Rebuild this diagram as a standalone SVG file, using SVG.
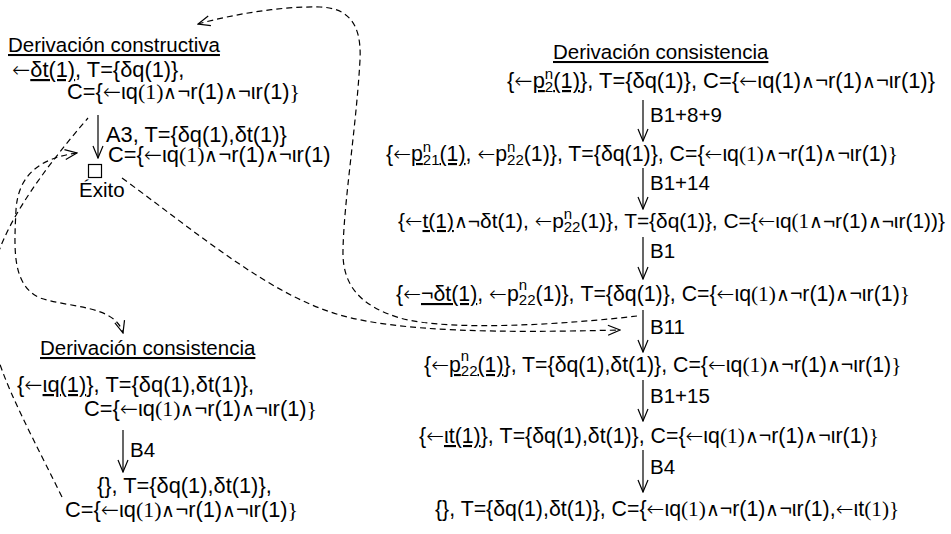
<svg xmlns="http://www.w3.org/2000/svg" width="951" height="534" viewBox="0 0 951 534">
<style>
text{font-family:"Liberation Sans","DejaVu Sans",sans-serif;font-size:20.5px;fill:#000}
.f{font-size:21.8px}
.g{font-size:21.3px}
.s{font-family:"Liberation Serif","DejaVu Serif",serif}
.a{font-family:"DejaVu Sans",sans-serif;font-weight:200}
.w{font-family:"DejaVu Sans",sans-serif;font-weight:200;font-size:19px}
.u{text-decoration:underline}
.sb{font-size:15px}
.arr{stroke:#000;stroke-width:1.2;fill:none;marker-end:url(#ah)}
.dash{stroke:#000;stroke-width:1.2;fill:none;stroke-dasharray:6 4}
</style>
<defs>
<marker id="ah" viewBox="-13 -6 14 12" refX="0" refY="0" markerWidth="14" markerHeight="12" markerUnits="userSpaceOnUse" orient="auto-start-reverse">
<path d="M-12,-5 L0,0 L-12,5" fill="none" stroke="#000" stroke-width="1.2"/>
</marker>
</defs>
<rect width="951" height="534" fill="#fff"/>

<g id="constructiva">
<text x="8" y="52" class="u">Derivación constructiva</text>
<text x="12" y="77" class="f"><tspan class="a">←</tspan><tspan class="u">δt(1)</tspan>, T={δq(1)},</text>
<text x="67" y="99" class="f">C={<tspan class="a">←</tspan>ιq<tspan class="s">(1)</tspan><tspan class="w">∧</tspan>¬r(1)<tspan class="w">∧</tspan>¬ιr(1)<tspan class="s">}</tspan></text>
</g>

<g id="exito">
<text x="106" y="142" class="f">A3, T={δq(1),δt(1)}</text>
<text x="108" y="162" class="f">C={<tspan class="a">←</tspan>ιq<tspan class="s">(1)</tspan><tspan class="w">∧</tspan>¬r(1)<tspan class="w">∧</tspan>¬ιr(1)</text>
<rect x="88.5" y="164.5" width="13" height="13" fill="none" stroke="#000" stroke-width="1.2"/>
<text x="79" y="197">Éxito</text>
</g>

<g id="consistencia-right">
<text x="553" y="59" class="u">Derivación consistencia</text>
</g>
<g id="r1"><text x="507" y="88" style="font-size:21.9px">{<tspan class="a">←</tspan><tspan class="u">p</tspan><tspan class="sb" dy="4">2</tspan><tspan class="sb" dx="-8.34" dy="-13">n</tspan><tspan class="u" dy="9">(1)</tspan>}, T={δq(1)}, C={<tspan class="a">←</tspan>ιq(1)<tspan class="w">∧</tspan>¬r(1)<tspan class="w">∧</tspan>¬ιr(1)}</text></g>
<g id="r2"><text x="386" y="161" class="g">{<tspan class="a">←</tspan><tspan class="u">p</tspan><tspan class="sb" dy="4">21</tspan><tspan class="sb" dx="-16.7" dy="-13">n</tspan><tspan class="u" dx="8.34" dy="9">(1)</tspan>, <tspan class="a">←</tspan>p<tspan class="sb" dy="4">22</tspan><tspan class="sb" dx="-16.7" dy="-13">n</tspan><tspan dx="8.34" dy="9">(1)}, T={δq(1)}, C={<tspan class="a">←</tspan>ιq<tspan class="s">(1)</tspan><tspan class="w">∧</tspan>¬r(1)<tspan class="w">∧</tspan>¬ιr(1)<tspan class="s">}</tspan></tspan></text></g>
<g id="r3"><text x="398" y="228" style="font-size:20.9px">{<tspan class="a">←</tspan><tspan class="u">t(1)</tspan><tspan class="w">∧</tspan>¬δt(1), <tspan class="a">←</tspan>p<tspan class="sb" dy="4">22</tspan><tspan class="sb" dx="-16.7" dy="-13">n</tspan><tspan dx="8.34" dy="9">(1)}, T={δq(1)}, C={<tspan class="a">←</tspan>ιq<tspan class="s">(1</tspan><tspan class="w">∧</tspan>¬r(1)<tspan class="w">∧</tspan>¬ιr(1))}</tspan></text></g>
<g id="r4"><text x="396" y="301" class="g">{<tspan class="a">←</tspan><tspan class="u">¬δt(1)</tspan>, <tspan class="a">←</tspan>p<tspan class="sb" dy="4">22</tspan><tspan class="sb" dx="-16.7" dy="-15">n</tspan><tspan dx="8.34" dy="11">(1)}, T={δq(1)}, C={<tspan class="a">←</tspan>ιq<tspan class="s">(1)</tspan><tspan class="w">∧</tspan>¬r(1)<tspan class="w">∧</tspan>¬ιr(1)<tspan class="s">}</tspan></tspan></text></g>
<g id="r5"><text x="424" y="372" class="g">{<tspan class="a">←</tspan><tspan class="u">p</tspan><tspan class="sb" dy="4">22</tspan><tspan class="sb" dx="-16.7" dy="-15">n</tspan><tspan class="u" dx="8.34" dy="11">(1)</tspan>}, T={δq(1),δt(1)}, C={<tspan class="a">←</tspan>ιq<tspan class="s">(1)</tspan><tspan class="w">∧</tspan>¬r(1)<tspan class="w">∧</tspan>¬ιr(1)<tspan class="s">}</tspan></text></g>
<g id="r6"><text x="419" y="443" class="g">{<tspan class="a">←</tspan><tspan class="u">ιt(1)</tspan>}, T={δq(1),δt(1)}, C={<tspan class="a">←</tspan>ιq<tspan class="s">(1)</tspan><tspan class="w">∧</tspan>¬r(1)<tspan class="w">∧</tspan>¬ιr(1)<tspan class="s">}</tspan></text></g>
<g id="r7"><text x="435" y="516" class="g">{}, T={δq(1),δt(1)}, C={<tspan class="a">←</tspan>ιq<tspan class="s">(1)</tspan><tspan class="w">∧</tspan>¬r(1)<tspan class="w">∧</tspan>¬ιr(1),<tspan class="a">←</tspan>ιt<tspan class="s">(1)}</tspan></text></g>

<g id="consistencia-left">
<text x="40" y="355" class="u">Derivación consistencia</text>
<text x="17" y="392" class="f">{<tspan class="a">←</tspan><tspan class="u">ιq(1)</tspan>}, T={δq(1),δt(1)},</text>
<text x="84" y="416" class="f">C={<tspan class="a">←</tspan>ιq<tspan class="s">(1)</tspan><tspan class="w">∧</tspan>¬r(1)<tspan class="w">∧</tspan>¬ιr(1)<tspan class="s">}</tspan></text>
</g>
<g id="empty-left">
<text x="97" y="493" class="f">{}, T={δq(1),δt(1)},</text>
<text x="65" y="517" class="f">C={<tspan class="a">←</tspan>ιq<tspan class="s">(1)</tspan><tspan class="w">∧</tspan>¬r(1)<tspan class="w">∧</tspan>¬ιr(1)<tspan class="s">}</tspan></text>
</g>

<g id="connectors">
<line class="arr" x1="98" y1="115" x2="98" y2="158"/>
<line class="arr" x1="643" y1="100" x2="643" y2="141"/>
<text x="650" y="122">B1+8+9</text>
<line class="arr" x1="643" y1="168" x2="643" y2="209"/>
<text x="650" y="190">B1+14</text>
<line class="arr" x1="643" y1="237" x2="643" y2="279"/>
<text x="650" y="258">B1</text>
<line class="arr" x1="643" y1="310" x2="643" y2="352"/>
<text x="650" y="334">B11</text>
<line class="arr" x1="643" y1="380" x2="643" y2="421"/>
<text x="650" y="403">B1+15</text>
<line class="arr" x1="643" y1="450" x2="643" y2="492"/>
<text x="650" y="474">B4</text>
<line class="arr" x1="123" y1="430" x2="123" y2="472"/>
<text x="130" y="457">B4</text>

<path class="dash" marker-end="url(#ah)" d="M637,316 C570,324 450,332 400,318 C360,306 342,285 343,250 C344,200 356,130 360,60 C362,20 345,8 320,7 C280,6 230,15 198,24"/>
<path class="dash" marker-end="url(#ah)" d="M122,178 C200,235 270,295 340,315 C400,332 500,333 620,330"/>
<path class="dash" d="M62,497 C-20,330 -60,290 88,118"/>
<path class="dash" marker-start="url(#ah)" marker-end="url(#ah)" d="M77,153 C40,158 18,175 16,210 C14,250 12,285 40,298 C70,308 115,305 123,333"/>
</g>
</svg>
